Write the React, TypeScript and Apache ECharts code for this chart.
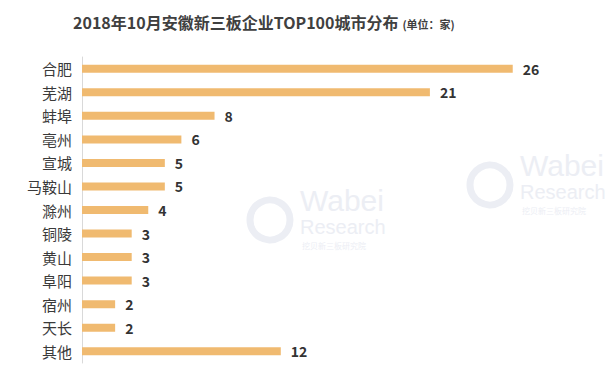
import React, { useEffect, useRef } from "react";
import * as echarts from "echarts";

const cities = ["合肥", "芜湖", "蚌埠", "亳州", "宣城", "马鞍山", "滁州", "铜陵", "黄山", "阜阳", "宿州", "天长", "其他"];
const counts = [26, 21, 8, 6, 5, 5, 4, 3, 3, 3, 2, 2, 12];
const titleText = "2018年10月安徽新三板企业TOP100城市分布";
const unitText = "(单位：家)";

const marks: [number, number][] = [
  [250, 185], [470, 150],
];

export default function App() {
  const ref = useRef<HTMLDivElement>(null);
  useEffect(() => {
    if (!ref.current) return;
    const chart = echarts.init(ref.current, null, { renderer: "svg" });
    const font = "'Noto Sans CJK SC', 'Noto Sans', sans-serif";
    const wm: any[] = marks.map(([x, y]) => ({
      type: "group",
      x,
      y,
      silent: true,
      z: -10,
      children: [
        { type: "circle", shape: { cx: 20, cy: 35, r: 20 }, style: { fill: "none", stroke: "#eceef4", lineWidth: 7 } },
        { type: "text", x: 50, y: 0, style: { text: "Wabei", font: "30px 'Liberation Sans', sans-serif", fill: "#eceef4" } },
        { type: "text", x: 50, y: 32, style: { text: "Research", font: "20px 'Liberation Sans', sans-serif", fill: "#eceef4" } },
        { type: "text", x: 52, y: 56, style: { text: "挖贝新三板研究院", font: "8px 'Noto Sans CJK SC'", fill: "#eceef4" } },
      ],
    }));
    chart.setOption({
      animation: false,
      backgroundColor: "#ffffff",
      textStyle: { fontFamily: font },
      title: {
        left: 68,
        top: 9,
        text: `{a|${titleText}}{b|${unitText}}`,
        textStyle: {
          rich: {
            a: { fontSize: 16, fontWeight: "bold", color: "#404040", fontFamily: font },
            b: { fontSize: 11, color: "#404040", fontFamily: font, padding: [3, 0, 0, 4] },
          },
        },
      },
      graphic: wm,
      grid: { left: 82, top: 57, width: 497, height: 306 },
      xAxis: {
        type: "value",
        min: 0,
        max: 30,
        show: false,
      },
      yAxis: {
        type: "category",
        data: cities,
        inverse: true,
        axisLine: { show: true, lineStyle: { color: "#d9d9d9", width: 1 } },
        axisTick: { show: false },
        axisLabel: { fontSize: 15, color: "#3a3a3a", margin: 10, fontFamily: font },
      },
      series: [
        {
          type: "bar",
          data: counts,
          barWidth: 8,
          itemStyle: { color: "#F0BA70" },
          label: {
            show: true,
            position: "right",
            distance: 10,
            fontSize: 14,
            fontWeight: "bold",
            color: "#333333",
            fontFamily: font,
          },
        },
      ],
    });
    return () => chart.dispose();
  }, []);
  return <div ref={ref} style={{ width: 605, height: 378, position: "absolute", left: 0, top: 0 }} />;
}
